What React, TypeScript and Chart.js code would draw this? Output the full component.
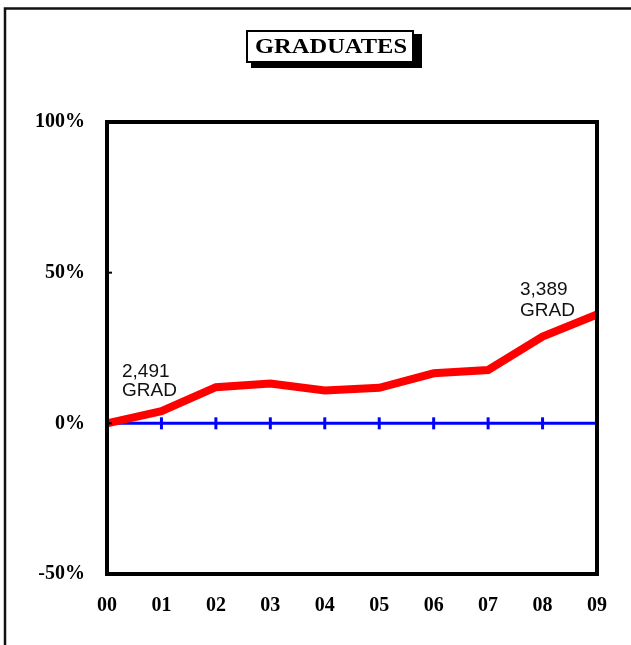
import React, { useEffect, useRef } from "react";
import { Chart, registerables } from "chart.js";

Chart.register(...registerables);

const categories = ["00", "01", "02", "03", "04", "05", "06", "07", "08", "09"];
const graduatesGrowth = [0, 4, 12, 13.2, 10.9, 11.8, 16.6, 17.7, 28.8, 36.1];
const baseline = [0, 0, 0, 0, 0, 0, 0, 0, 0, 0];
const yTicks = [-50, 0, 50, 100];
const titleText = "GRADUATES";
const firstNote = ["2,491", "GRAD"];
const lastNote = ["3,389", "GRAD"];

const SERIF = "'Liberation Serif', 'Times New Roman', serif";
const SANS = "'Liberation Sans', Arial, sans-serif";

const decorPlugin = {
  id: "decor",
  beforeDraw(chart: any) {
    const ctx = chart.ctx;
    ctx.save();
    // outer frame
    ctx.strokeStyle = "#111";
    ctx.lineWidth = 2.5;
    ctx.beginPath();
    ctx.moveTo(5, 700);
    ctx.lineTo(5, 8.5);
    ctx.lineTo(700, 8.5);
    ctx.stroke();
    // title box with shadow
    ctx.fillStyle = "#000";
    ctx.fillRect(251, 34, 171, 34);
    ctx.fillStyle = "#fff";
    ctx.fillRect(246, 30, 168, 33);
    ctx.strokeStyle = "#000";
    ctx.lineWidth = 2;
    ctx.strokeRect(247, 31, 166, 31);
    ctx.font = "bold 20px " + SERIF;
    ctx.fillStyle = "#000";
    ctx.textBaseline = "alphabetic";
    ctx.textAlign = "left";
    const w = ctx.measureText(titleText).width;
    const s = 152 / w;
    ctx.translate(255, 53);
    ctx.scale(s, 1);
    ctx.fillText(titleText, 0, 0);
    ctx.restore();
  },
  afterDatasetsDraw(chart: any) {
    const ctx = chart.ctx;
    const a = chart.chartArea;
    const xs = chart.scales.x;
    const ys = chart.scales.y;
    ctx.save();
    // inward y ticks
    ctx.strokeStyle = "#000";
    ctx.lineWidth = 2;
    yTicks.forEach((v) => {
      const y = ys.getPixelForValue(v);
      ctx.beginPath();
      ctx.moveTo(a.left, y);
      ctx.lineTo(a.left + 5, y);
      ctx.stroke();
    });
    // plot border
    ctx.lineWidth = 4;
    ctx.strokeRect(a.left, a.top, a.right - a.left, a.bottom - a.top);
    // annotations
    ctx.font = "19px " + SANS;
    ctx.fillStyle = "#111";
    ctx.textAlign = "left";
    ctx.textBaseline = "alphabetic";
    const x0 = xs.getPixelForValue(0);
    const y0 = ys.getPixelForValue(graduatesGrowth[0]);
    ctx.fillText(firstNote[0], x0 + 15, y0 - 46);
    ctx.fillText(firstNote[1], x0 + 15, y0 - 27);
    const n = graduatesGrowth.length - 1;
    const x9 = xs.getPixelForValue(n);
    const y9 = ys.getPixelForValue(graduatesGrowth[n]);
    ctx.fillText(lastNote[0], x9 - 77, y9 - 20);
    ctx.fillText(lastNote[1], x9 - 77, y9 + 1);
    ctx.restore();
  },
};

export default function App() {
  const ref = useRef<HTMLCanvasElement>(null);
  useEffect(() => {
    const chart = new Chart(ref.current as HTMLCanvasElement, {
      type: "line",
      data: {
        labels: categories,
        datasets: [
          {
            data: graduatesGrowth,
            borderColor: "#ff0000",
            borderWidth: 8,
            pointRadius: 0,
            tension: 0,
            fill: false,
          },
          {
            data: baseline,
            borderColor: "#0000ff",
            borderWidth: 3,
            pointStyle: "line",
            pointRotation: 90,
            pointRadius: 6,
            pointBorderWidth: 3,
            pointBorderColor: "#0000ff",
            tension: 0,
            fill: false,
          },
        ],
      },
      options: {
        responsive: false,
        animation: false,
        layout: { padding: { top: 122, right: 34, left: 0, bottom: 0 } },
        plugins: { legend: { display: false }, tooltip: { enabled: false }, title: { display: false } },
        scales: {
          x: {
            offset: false,
            grid: { display: false, drawTicks: false },
            border: { display: false },
            ticks: {
              autoSkip: false,
              maxRotation: 0,
              padding: 20,
              color: "#000",
              font: { family: SERIF, size: 20, weight: "bold" },
            },
            afterFit: (axis: any) => {
              axis.height = 71;
            },
          },
          y: {
            min: -50,
            max: 100,
            grid: { display: false, drawTicks: false },
            border: { display: false },
            afterBuildTicks: (axis: any) => {
              axis.ticks = yTicks.map((v) => ({ value: v }));
            },
            ticks: {
              padding: 22,
              color: "#000",
              font: { family: SERIF, size: 20, weight: "bold" },
              callback: (v: any) => v + "%",
            },
            afterFit: (axis: any) => {
              axis.width = 107;
            },
          },
        },
      },
      plugins: [decorPlugin],
    } as any);
    return () => chart.destroy();
  }, []);
  return (
    <div style={{ position: "absolute", left: 0, top: 0, width: 631, height: 645, background: "#fff" }}>
      <canvas ref={ref} width={631} height={645} style={{ display: "block" }} />
    </div>
  );
}
